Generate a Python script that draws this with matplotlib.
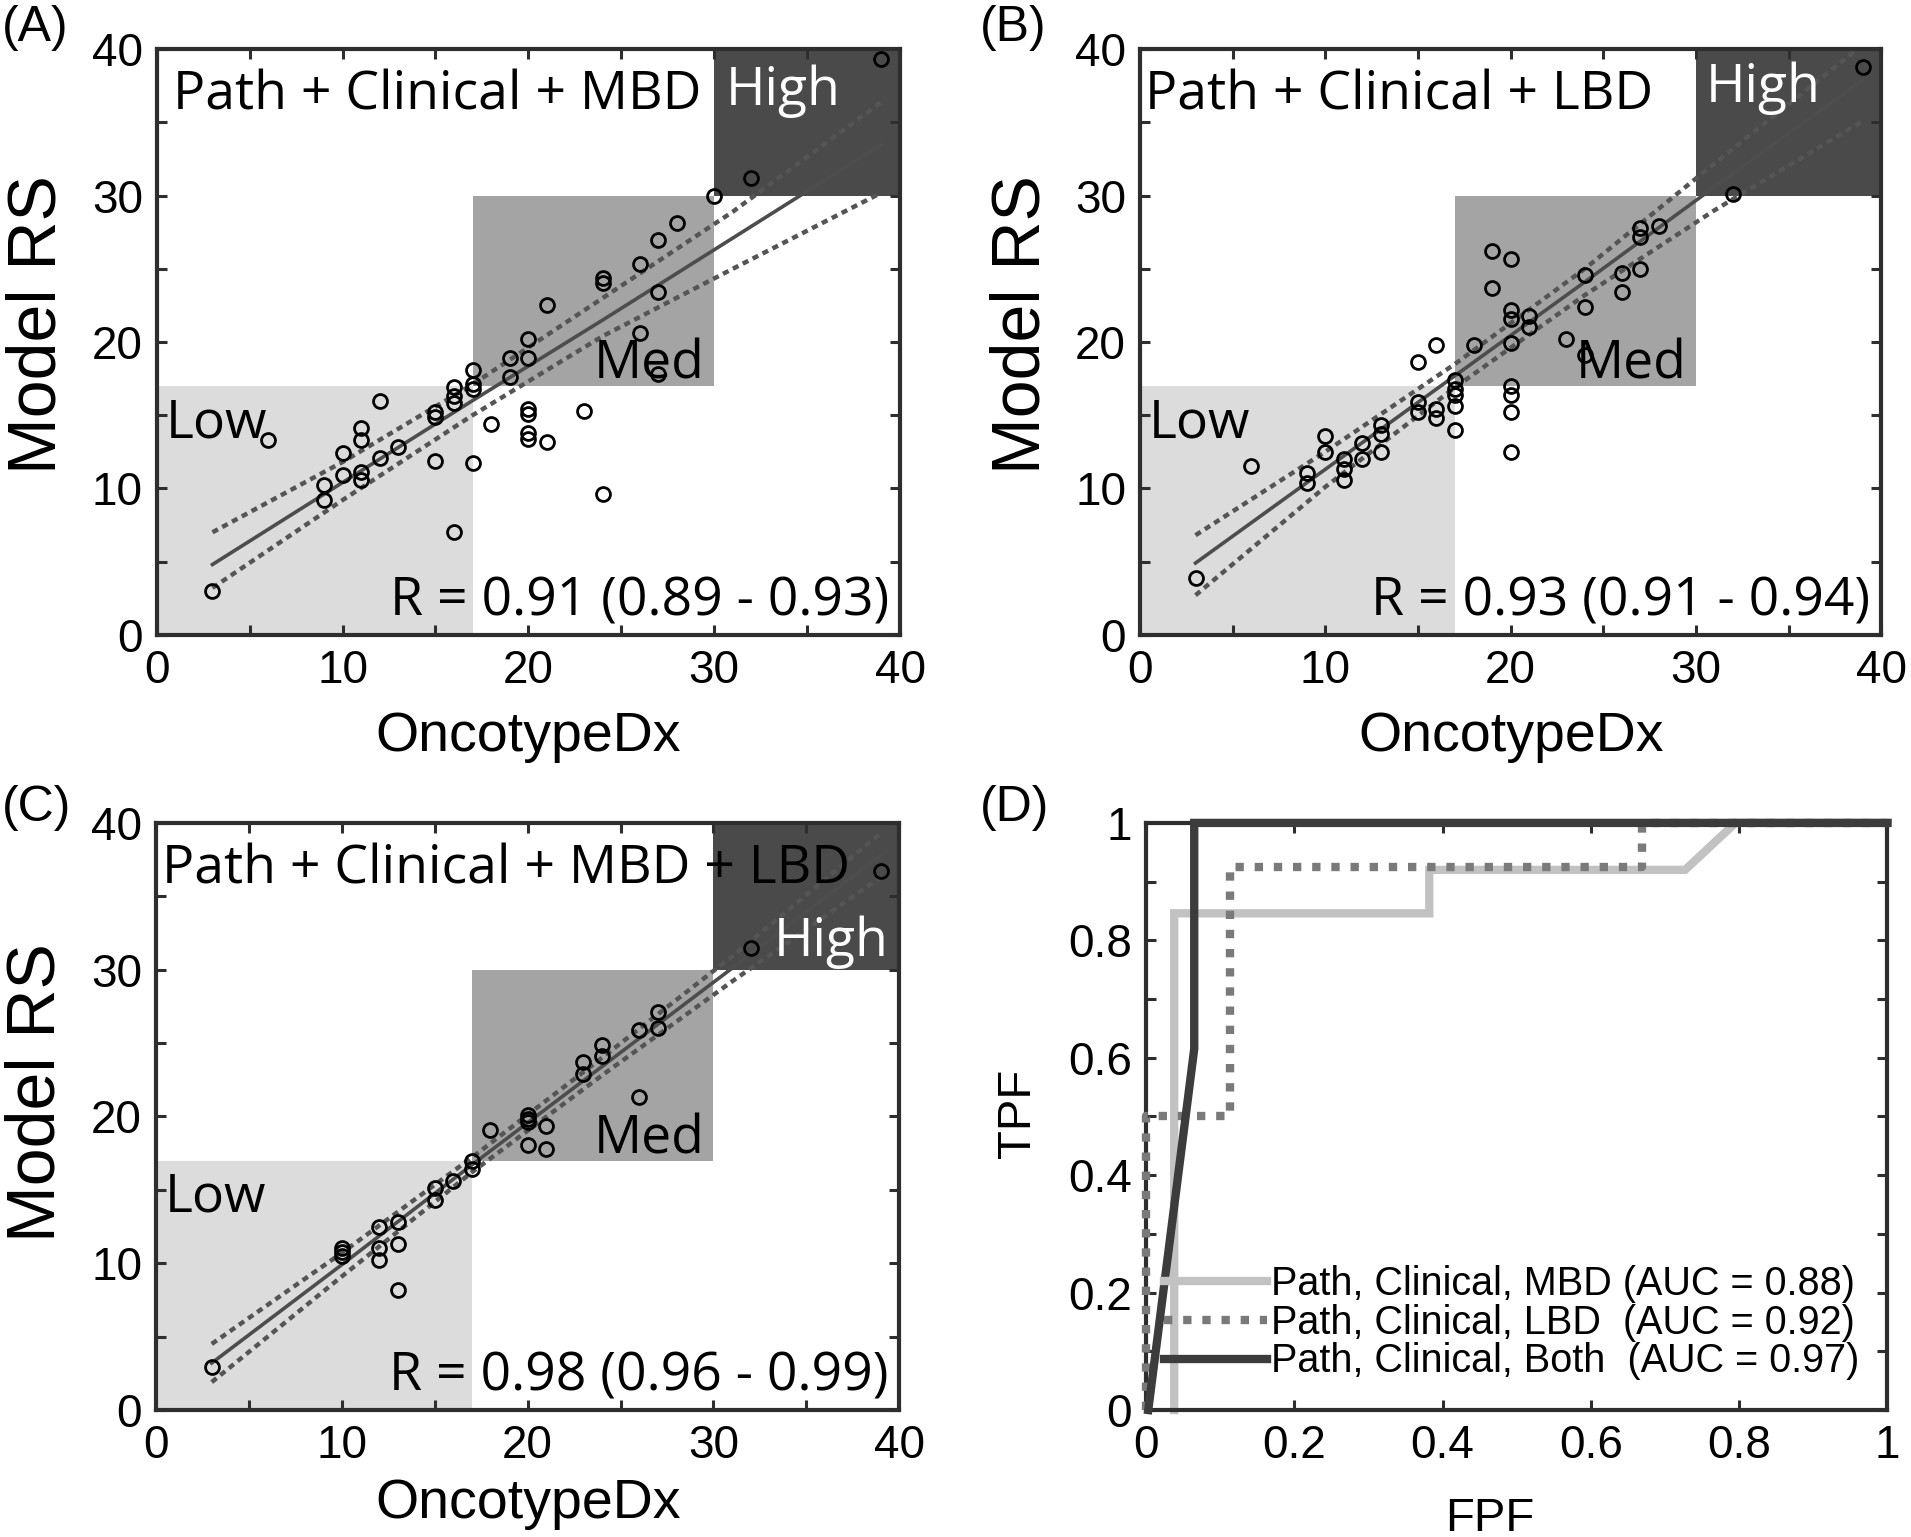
import matplotlib
matplotlib.use("Agg")
import matplotlib.pyplot as plt
from matplotlib.ticker import MultipleLocator

# ---- data: panel A (Path + Clinical + MBD)
a_x = [3, 6, 9, 9, 10, 10, 11, 11, 11, 11, 12, 12, 13, 15, 15, 15, 16, 16, 16, 16,
       17, 17, 17, 17, 18, 19, 19, 20, 20, 20, 20, 20, 20, 21, 21, 23, 24, 24, 24, 26,
       26, 27, 27, 27, 28, 30, 32, 39]
a_y = [3.0, 13.3, 10.2, 9.2, 12.45, 10.9, 14.15, 13.3, 11.1, 10.6, 16.0, 12.1, 12.8, 15.2, 14.9, 11.9, 16.9, 16.3, 15.8, 7.0,
       18.1, 17.1, 16.8, 11.7, 14.4, 18.9, 17.6, 20.2, 18.9, 15.4, 15.1, 13.8, 13.4, 22.5, 13.2, 15.3, 24.4, 24.0, 9.6, 25.3,
       20.6, 27.0, 23.4, 17.8, 28.1, 30.0, 31.2, 39.3]

# ---- panel B (Path + Clinical + LBD)
b_x = [3, 6, 9, 9, 10, 10, 11, 11, 11, 12, 12, 13, 13, 13, 15, 15, 15, 16, 16, 16,
       17, 17, 17, 17, 17, 18, 19, 19, 20, 20, 20, 20, 20, 20, 20, 20, 21, 21, 23, 24,
       24, 24, 26, 26, 27, 27, 27, 28, 32, 39]
b_y = [3.9, 11.5, 11.05, 10.4, 13.6, 12.5, 12.0, 11.3, 10.6, 13.1, 12.0, 14.3, 13.7, 12.5, 18.6, 15.9, 15.2, 19.8, 15.4, 14.8,
       17.4, 16.8, 16.4, 15.6, 14.0, 19.8, 26.2, 23.7, 25.7, 22.2, 21.6, 19.9, 17.0, 16.4, 15.2, 12.5, 21.8, 21.0, 20.2, 24.6,
       22.4, 19.1, 24.7, 23.4, 27.8, 27.2, 25.0, 27.95, 30.1, 38.8]

# ---- panel C (Path + Clinical + MBD + LBD)
c_x = [3, 10, 10, 10, 12, 12, 12, 13, 13, 13, 15, 15, 16, 17, 17, 18, 20, 20, 20, 20,
       21, 21, 23, 23, 24, 24, 26, 26, 27, 27, 32, 39]
c_y = [2.9, 11.05, 10.75, 10.5, 12.45, 11.05, 10.25, 12.8, 11.3, 8.2, 15.1, 14.3, 15.6, 17.0, 16.4, 19.1, 20.1, 19.8, 19.6, 18.05,
       19.35, 17.8, 23.7, 22.9, 24.9, 24.1, 25.9, 21.3, 27.1, 26.0, 31.5, 36.7]

# regression fit and confidence bands, read at these x values
band_x = [3, 10, 17, 24, 31, 39]
a_fit = [4.8, 10.4, 16.0, 21.5, 27.1, 33.5]
a_up = [7.0, 11.8, 17.1, 23.0, 28.9, 36.4]
a_lo = [3.2, 9.2, 15.0, 20.4, 25.0, 30.2]
b_fit = [4.9, 11.3, 17.7, 24.1, 30.6, 37.9]
b_up = [6.8, 12.5, 18.5, 25.0, 32.2, 40.3]
b_lo = [2.7, 10.1, 16.9, 23.2, 29.0, 35.1]
c_fit = [3.2, 9.9, 16.7, 23.4, 30.1, 37.8]
c_up = [4.5, 10.7, 17.2, 24.0, 30.9, 39.3]
c_lo = [1.9, 9.1, 16.2, 22.8, 29.2, 36.3]

# risk category boxes (low / med / high)
cut_low = 17
cut_high = 30

# ---- panel D: ROC curves
mbd_fpf = [0.038, 0.038, 0.382, 0.382, 0.727, 0.795, 1.0]
mbd_tpf = [0.0, 0.846, 0.846, 0.92, 0.92, 1.0, 1.0]
lbd_fpf = [0.0, 0.0, 0.113, 0.113, 0.669, 0.669, 1.0]
lbd_tpf = [0.0, 0.5, 0.5, 0.925, 0.925, 1.0, 1.0]
both_fpf = [0.003, 0.065, 0.065, 1.0]
both_tpf = [0.0, 0.615, 1.0, 1.0]
roc_labels = ["Path, Clinical, MBD (AUC = 0.88)",
              "Path, Clinical, LBD  (AUC = 0.92)",
              "Path, Clinical, Both  (AUC = 0.97)"]

plt.rcParams["font.family"] = "Liberation Sans"
ann_font = "Open Sans"
ann_size = 38.5

fig = plt.figure(figsize=(19.11, 15.37), dpi=100)

frame_col = "#2e2e2e"


def style_axes(ax):
    for s in ax.spines.values():
        s.set_linewidth(3)
        s.set_color(frame_col)
    ax.tick_params(which="both", direction="in", top=True, right=True,
                   length=7, width=2.2, color=frame_col, labelsize=33, pad=10)


def scatter_panel(rect, xs, ys, fit, up, lo, title, rtext, high_pos, title_x, xlab_y, ylab_y):
    ax = fig.add_axes(rect)
    ax.set_xlim(0, 40)
    ax.set_ylim(0, 40)
    ax.add_patch(plt.Rectangle((0, 0), cut_low, cut_low, color="#dcdcdc", lw=0, zorder=0))
    ax.add_patch(plt.Rectangle((cut_low, cut_low), cut_high - cut_low, cut_high - cut_low,
                               color="#a4a4a4", lw=0, zorder=0))
    ax.add_patch(plt.Rectangle((cut_high, cut_high), 40 - cut_high, 40 - cut_high,
                               color="#4a4a4a", lw=0, zorder=0))
    ax.plot(band_x, fit, color="#4d4d4d", lw=2.6, zorder=2)
    ax.plot(band_x, up, color="#555555", lw=3.2, ls=(0, (1.4, 1.1)), zorder=2)
    ax.plot(band_x, lo, color="#555555", lw=3.2, ls=(0, (1.4, 1.1)), zorder=2)
    ax.plot(xs, ys, "o", ms=10, mfc="none", mec="black", mew=2, zorder=3)
    ax.xaxis.set_major_locator(MultipleLocator(10))
    ax.xaxis.set_minor_locator(MultipleLocator(5))
    ax.yaxis.set_major_locator(MultipleLocator(10))
    ax.yaxis.set_minor_locator(MultipleLocator(5))
    style_axes(ax)
    ax.set_xlabel("OncotypeDx", fontsize=40, va="center")
    ax.set_ylabel("Model RS", fontsize=49, va="center")
    ax.xaxis.set_label_coords(0.5, xlab_y)
    ax.yaxis.set_label_coords(-0.16, ylab_y)
    ax.text(title_x, 35.9, title, family=ann_font, fontsize=ann_size, va="baseline", zorder=4)
    ax.text(0.5, 13.5, "Low", family=ann_font, fontsize=ann_size, va="baseline", zorder=4)
    ax.text(29.5, 17.5, "Med", family=ann_font, fontsize=ann_size, va="baseline", ha="right", zorder=4)
    ax.text(high_pos[0], high_pos[1], "High", family=ann_font, fontsize=ann_size, va="baseline",
            ha=high_pos[2], color="white", zorder=4)
    ax.text(39.4, 1.3, rtext, family=ann_font, fontsize=ann_size, va="baseline", ha="right", zorder=4)
    return ax


scatter_panel([0.082, 0.587, 0.389, 0.381], a_x, a_y, a_fit, a_up, a_lo,
              "Path + Clinical + MBD", "R = 0.91 (0.89 - 0.93)", (30.6, 36.2, "left"), 0.9,
              -0.175, 0.53)
scatter_panel([0.5965, 0.587, 0.388, 0.381], b_x, b_y, b_fit, b_up, b_lo,
              "Path + Clinical + LBD", "R = 0.93 (0.91 - 0.94)", (30.5, 36.4, "left"), 0.3,
              -0.175, 0.53)
scatter_panel([0.0816, 0.0826, 0.389, 0.382], c_x, c_y, c_fit, c_up, c_lo,
              "Path + Clinical + MBD + LBD", "R = 0.98 (0.96 - 0.99)", (39.4, 30.9, "right"), 0.3,
              -0.16, 0.54)

# ---- panel D
axd = fig.add_axes([0.5997, 0.0826, 0.388, 0.382])
axd.plot(mbd_fpf, mbd_tpf, color="#c2c2c2", lw=6, solid_joinstyle="miter",
         clip_on=False, label=roc_labels[0], zorder=2)
axd.plot(lbd_fpf, lbd_tpf, color="#7a7a7a", lw=6, ls=(0, (1, 1.3)),
         clip_on=False, label=roc_labels[1], zorder=3)
axd.plot(both_fpf, both_tpf, color="#3c3c3c", lw=6, solid_joinstyle="miter",
         clip_on=False, label=roc_labels[2], zorder=4)
axd.set_xlim(0, 1)
axd.set_ylim(0, 1)
axd.yaxis.set_minor_locator(MultipleLocator(0.1))
style_axes(axd)
axd.set_xticks([0, 0.2, 0.4, 0.6, 0.8, 1])
axd.set_xticklabels(["0", "0.2", "0.4", "0.6", "0.8", "1"])
axd.set_yticks([0, 0.2, 0.4, 0.6, 0.8, 1])
axd.set_yticklabels(["0", "0.2", "0.4", "0.6", "0.8", "1"])
axd.set_xlabel("FPF", fontsize=34, va="center")
axd.set_ylabel("TPF", fontsize=34, va="center")
axd.xaxis.set_label_coords(0.464, -0.185)
axd.yaxis.set_label_coords(-0.172, 0.505)
axd.legend(loc="lower left", bbox_to_anchor=(0.0, 0.02), frameon=False, fontsize=28.5,
           handlelength=2.6, handletextpad=0.1, labelspacing=0.02, borderpad=0.3,
           borderaxespad=0.15)

# panel letters
for lbl, (px, py) in zip(["(A)", "(B)", "(C)", "(D)"],
                         [(0.001, 0.997), (0.513, 0.997), (0.001, 0.489), (0.513, 0.489)]):
    fig.text(px, py, lbl, fontsize=36, va="top", ha="left")

fig.savefig("out.png", dpi=100)
